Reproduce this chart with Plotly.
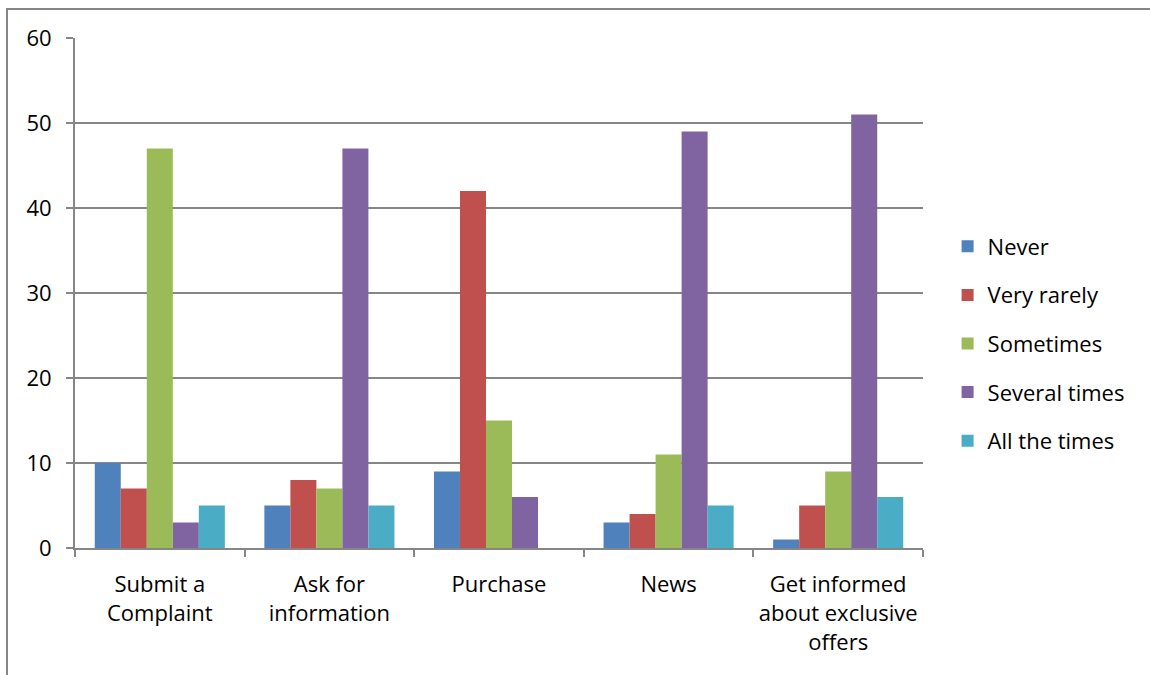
import plotly.graph_objects as go

categories = ["Submit a<br>Complaint", "Ask for<br>information", "Purchase", "News",
              "Get informed<br>about exclusive<br>offers"]
series_names = ["Never", "Very rarely", "Sometimes", "Several times", "All the times"]
never = [10, 5, 9, 3, 1]
very_rarely = [7, 8, 42, 4, 5]
sometimes = [47, 7, 15, 11, 9]
several_times = [3, 47, 6, 49, 51]
all_the_times = [5, 5, 0, 5, 6]
colors = ["#4F81BD", "#C0504D", "#9BBB59", "#8064A2", "#4BACC6"]
y_ticks = [0, 10, 20, 30, 40, 50, 60]

values = [never, very_rarely, sometimes, several_times, all_the_times]

W, H = 1150, 675
L, R, T, B = 75, 923, 38, 548

fig = go.Figure()
for name, vals, col in zip(series_names, values, colors):
    fig.add_trace(go.Bar(x=categories, y=vals, name=name, marker_color=col,
                         marker_line_width=0, legendgroup=name))

grid = "#868686"
font = "Open Sans, Liberation Sans, sans-serif"
fs = 22

fig.update_layout(
    width=W, height=H,
    margin=dict(l=L, r=W - R, t=T, b=H - B, autoexpand=False),
    paper_bgcolor="white", plot_bgcolor="white",
    barmode="group", bargap=0.233, bargroupgap=0,
    font=dict(family=font, size=fs, color="#000000"),
    showlegend=True,
    legend=dict(x=1.029, y=0.401, xanchor="left", yanchor="middle",
                font=dict(size=fs, family=font, color="#000000"), tracegroupgap=17,
                itemwidth=30, bgcolor="rgba(0,0,0,0)"),
    xaxis=dict(type="category", showline=True, linecolor=grid, linewidth=2,
               ticks="outside", tickson="boundaries", ticklen=7, tickcolor=grid,
               tickwidth=2, showgrid=False, tickfont=dict(size=fs, color="#000000"),
               range=[-0.5, 4.5], ticklabelstandoff=16),
    yaxis=dict(range=[0, 60], tickvals=y_ticks, showline=True, linecolor=grid,
               linewidth=2, ticks="outside", ticklen=7, tickcolor=grid, tickwidth=2,
               showgrid=True, gridcolor=grid, gridwidth=1.5, zeroline=False,
               tickfont=dict(size=fs, color="#000000"), ticklabelstandoff=10),
)

pw, ph = R - L, B - T
fig.add_shape(type="rect", xref="paper", yref="paper",
              x0=(7 - L) / pw, x1=(W + 5 - L) / pw,
              y0=(B - (H + 5)) / ph, y1=(B - 9) / ph,
              line=dict(color=grid, width=2), fillcolor="rgba(0,0,0,0)", layer="below")

fig.write_html("out.html")
